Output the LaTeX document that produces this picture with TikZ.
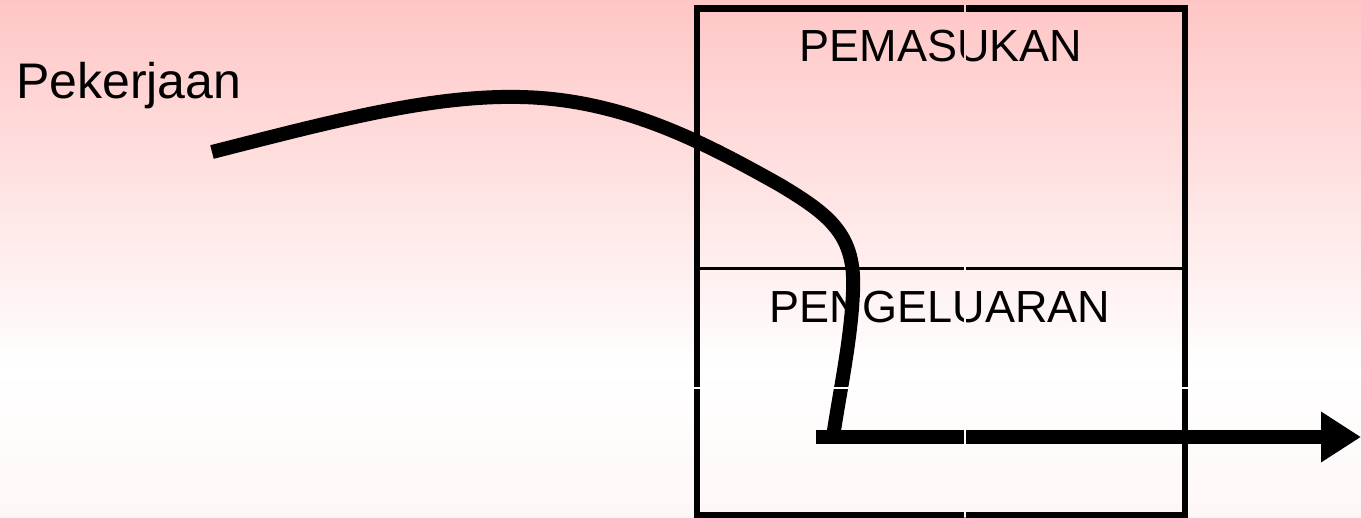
\documentclass[tikz,border=0pt]{standalone}
\usepackage{fontspec}
\setmainfont{Liberation Sans}
\usetikzlibrary{arrows.meta}
\definecolor{bgtop}{RGB}{255,198,198}
\definecolor{bgmid}{RGB}{255,255,255}
\definecolor{bgbot}{RGB}{255,247,247}
\tikzset{
  frameline/.style={line width=6.5pt, draw=black},
  midline/.style={line width=3pt, draw=black},
  flowline/.style={line width=14pt, draw=black},
  lbl/.style={inner sep=0pt, anchor=base, font=\fontsize{45}{50}\selectfont},
}
\begin{document}
\begin{tikzpicture}[x=1pt,y=-1pt]
\useasboundingbox (0,0) rectangle (1361,518);
\shade[top color=bgtop, bottom color=bgmid] (0,0) rectangle (1361,370.5);
\shade[top color=bgmid, bottom color=bgbot] (0,370) rectangle (1361,518);
% frame
\draw[frameline] (697,8.5) rectangle (1185,515.5);
\draw[midline] (697,269) -- (1185,269);
% labels
\node[lbl, anchor=base west, font=\fontsize{50}{56}\selectfont] (pek) at (16,99) {Pekerjaan};
\node[lbl] (pem) at (941,62) {PEMASUKAN};
\node[lbl] (pen) at (940,323) {PENGELUARAN};
% flow
\coordinate (s) at (212,152);
\coordinate (t) at (833,437);
\coordinate (h) at (816,437);
\coordinate (e) at (1361,437);
\draw[flowline] (s) .. controls (330,122) and (430,95) .. (520,97)
  .. controls (620,99) and (700,140) .. (780,185)
  .. controls (830,215) and (856,235) .. (853,292)
  .. controls (851,340) and (840,390) .. (t);
\draw[flowline, -{Triangle[length=40pt,width=48pt]}] (h) -- (e);
% thin cell gaps in background colour
\shade[top color=bgtop, bottom color=bgmid] (964.4,0) rectangle (965.6,370.5);
\shade[top color=bgmid, bottom color=bgbot] (964.4,370) rectangle (965.6,518);
\fill[bgmid] (693,387.4) rectangle (1189,388.6);
\end{tikzpicture}
\end{document}
